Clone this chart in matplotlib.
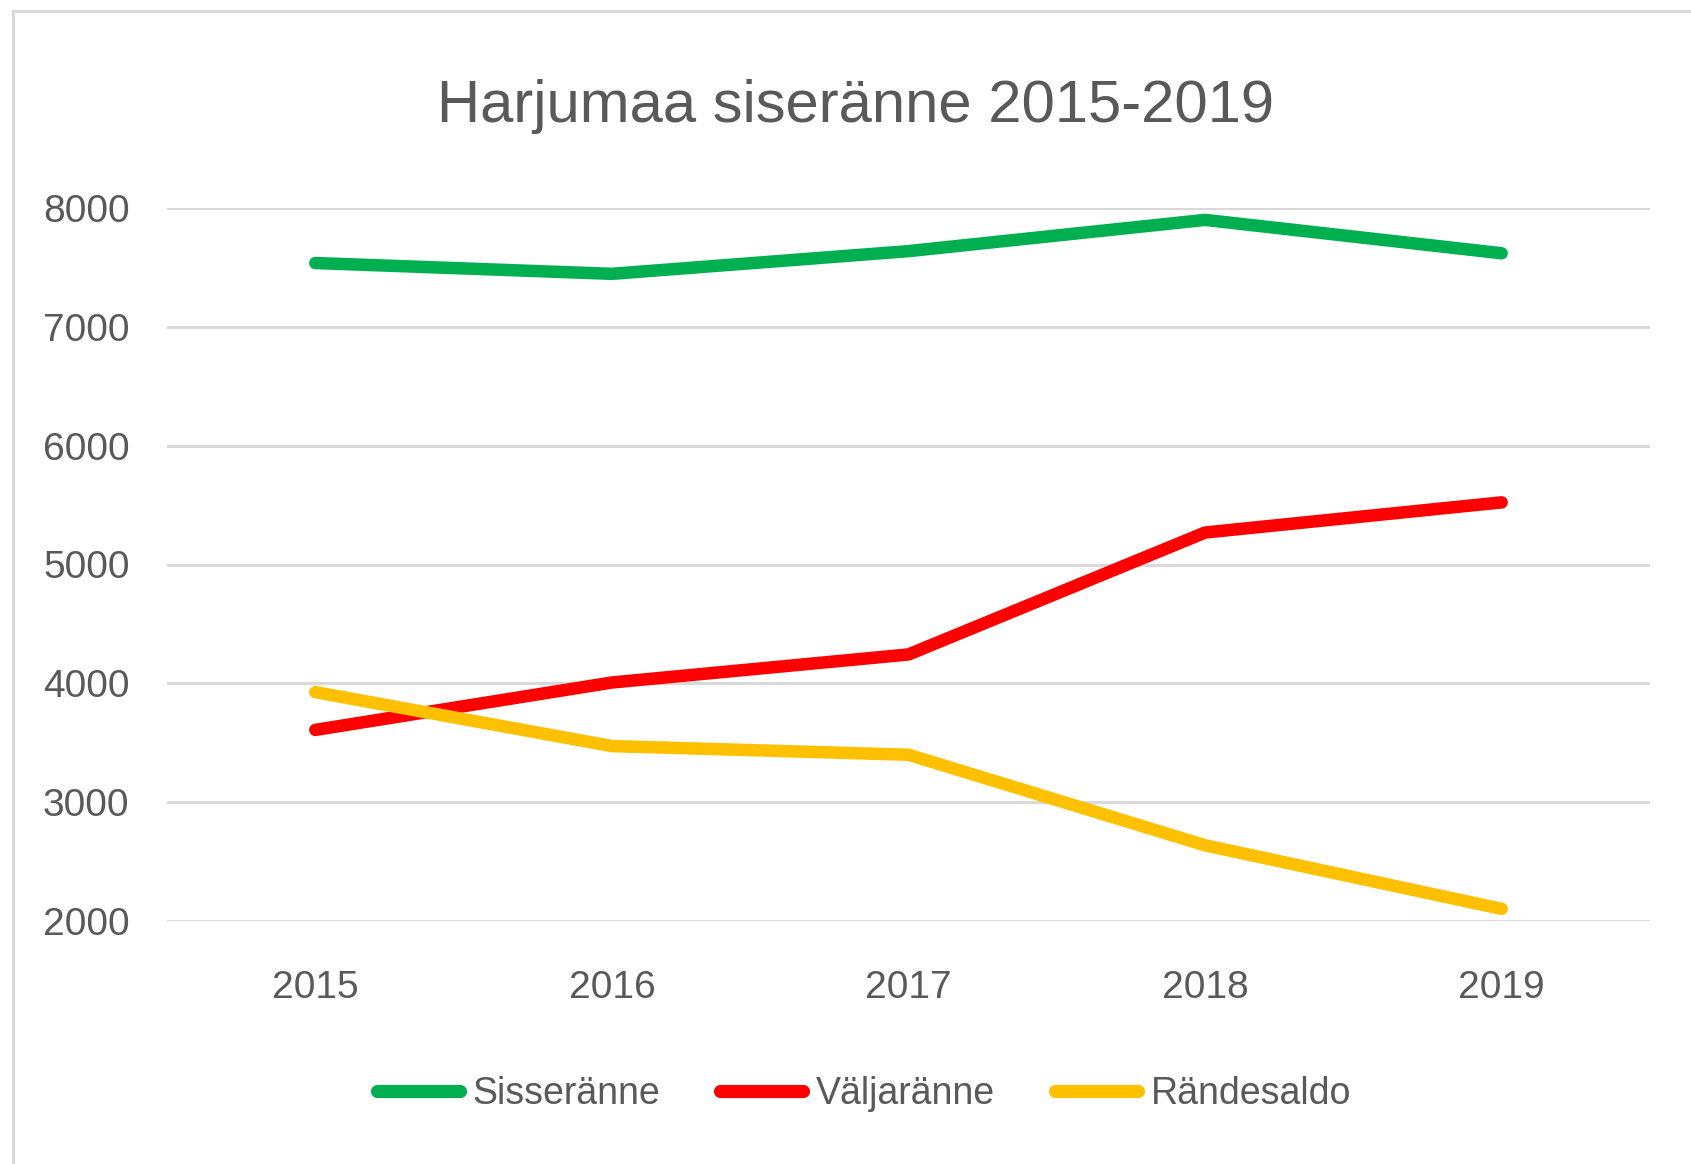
import matplotlib
matplotlib.use("Agg")
import matplotlib.pyplot as plt
from matplotlib import font_manager
from matplotlib.patches import Rectangle

years = ["2015", "2016", "2017", "2018", "2019"]
sisseranne = [7537, 7446, 7637, 7900, 7619]
valjaranne = [3608, 4007, 4243, 5269, 5523]
randesaldo = [3926, 3472, 3399, 2637, 2102]
series_names = ["Sisseränne", "Väljaränne", "Rändesaldo"]
yticks = [2000, 3000, 4000, 5000, 6000, 7000, 8000]

names = {f.name for f in font_manager.fontManager.ttflist}
fam = "Liberation Sans Narrow" if "Liberation Sans Narrow" in names else "Liberation Sans"
plt.rcParams['font.family'] = [fam, 'DejaVu Sans']

txt = "#595959"
W, H = 1691, 1164
fig = plt.figure(figsize=(W/100, H/100), dpi=100)
fig.patch.set_facecolor("white")

# chart border (left and top visible)
fig.patches.append(Rectangle((13/W, -0.1), 1.2, 1 - 11/H + 0.1, transform=fig.transFigure,
                             fill=False, edgecolor="#D9D9D9", linewidth=2.2))

ax = fig.add_axes([167/W, 1 - 921/H, (1650-167)/W, (921-208)/H])
x = list(range(len(years)))
colors = ["#00B050", "#FF0000", "#FFC000"]
for vals, name, c in zip([sisseranne, valjaranne, randesaldo], series_names, colors):
    ax.plot(x, vals, color=c, lw=9, solid_capstyle="round", solid_joinstyle="round", label=name, zorder=3)

ax.set_xlim(-0.5, len(years) - 0.5)
ax.set_ylim(yticks[0], yticks[-1])
ax.set_yticks(yticks)
ax.set_yticklabels([str(t) for t in yticks])
ax.set_xticks(x)
ax.set_xticklabels(years)
ax.grid(axis="y", color="#D9D9D9", lw=2.2, zorder=0)
ax.set_axisbelow(True)
for s in ax.spines.values():
    s.set_visible(False)
ax.tick_params(axis="both", length=0, labelsize=28, labelcolor=txt)
ax.tick_params(axis="y", pad=27)
ax.tick_params(axis="x", pad=35)
for t in ax.get_yticklabels():
    t.set_clip_on(False)

fig.text(0.5057, 1 - 106/H, "Harjumaa siseränne 2015-2019", ha="center", va="center",
         fontsize=43, color=txt)

leg = fig.legend(loc="center", bbox_to_anchor=(0.511, 1 - 1094/H), ncol=3, frameon=False,
                 fontsize=27, handlelength=2.2, handletextpad=0.35, columnspacing=1.6,
                 labelcolor=txt)
for l in leg.get_lines():
    l.set_linewidth(9.5)
    l.set_solid_capstyle("round")

fig.savefig("out.png", dpi=100, facecolor="white")
